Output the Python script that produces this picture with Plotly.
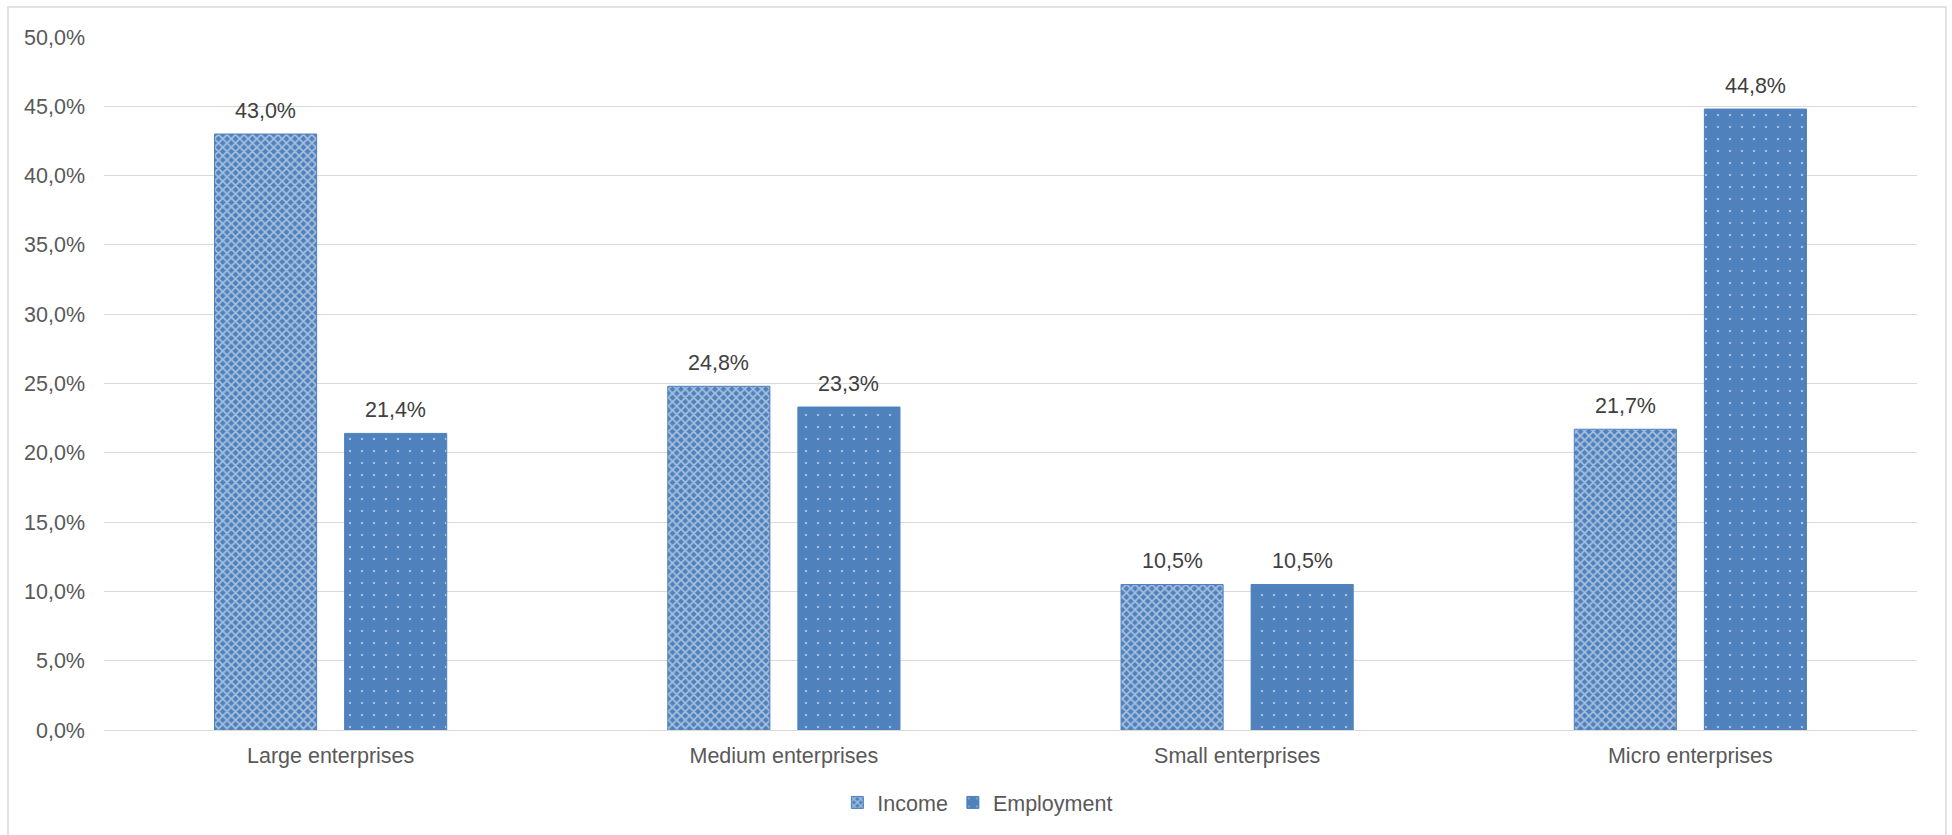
import plotly.graph_objects as go

categories = ["Large enterprises", "Medium enterprises", "Small enterprises", "Micro enterprises"]
income = [0.430, 0.248, 0.105, 0.217]
employment = [0.214, 0.233, 0.105, 0.448]
y_ticks = [0, 0.05, 0.10, 0.15, 0.20, 0.25, 0.30, 0.35, 0.40, 0.45, 0.50]

W, H = 1952, 835
L, R, T, B = 104, 35, 37, 105
BLUE = "#4f81bd"
FONT = "Liberation Sans, Arial, sans-serif"
FS = 21.5

fig = go.Figure()
fig.add_trace(go.Bar(
    x=categories, y=income, name="Income",
    marker=dict(color=BLUE, line=dict(color=BLUE, width=1),
                pattern=dict(shape="x", fgcolor="white", bgcolor=BLUE, size=6, solidity=0.5)),
))
fig.add_trace(go.Bar(
    x=categories, y=employment, name="Employment",
    marker=dict(color=BLUE, line=dict(color=BLUE, width=1),
                pattern=dict(shape=".", fgcolor="white", bgcolor=BLUE, size=12, solidity=0.035)),
))

# data labels above bars (offset to each bar of the group)
for vals, dx in ((income, -65), (employment, 65)):
    for c, v in zip(categories, vals):
        fig.add_annotation(x=c, y=v, xref="x", yref="y", text=f"{v*100:.1f}%".replace(".", ","),
                           showarrow=False, xshift=dx, yshift=23, yanchor="middle",
                           font=dict(color="#404040", size=FS, family=FONT))

pw = W - L - R
ph = H - T - B
fig.add_shape(type="rect", xref="paper", yref="paper",
              x0=(8 - L) / pw, x1=(1946 - L) / pw,
              y0=(H - 900 - B) / ph, y1=(H - 7 - B) / ph,
              line=dict(color="#d9d9d9", width=1.5), fillcolor="rgba(0,0,0,0)", layer="below")

fig.update_layout(
    width=W, height=H, margin=dict(l=L, r=R, t=T, b=B, autoexpand=False),
    paper_bgcolor="white", plot_bgcolor="white",
    separators=",.",
    barmode="group", bargap=0.426, bargroupgap=0.215,
    font=dict(family=FONT, color="#595959", size=FS),
    showlegend=True,
    legend=dict(orientation="h", x=0.482, xanchor="center", y=-0.075, yanchor="top",
                font=dict(size=FS, color="#595959"), itemwidth=30, traceorder="normal"),
    xaxis=dict(showline=True, linecolor="#d9d9d9", linewidth=1, ticks="",
               ticklabelstandoff=6, automargin=False,
               tickfont=dict(size=FS, color="#595959"), showgrid=False),
    yaxis=dict(range=[0, 0.5], tickvals=y_ticks, tickformat=".1%",
               showgrid=True, gridcolor="#d9d9d9", gridwidth=1, automargin=False,
               zeroline=False, showline=False, ticks="", ticklabelstandoff=18,
               tickfont=dict(size=FS, color="#595959")),
)

fig.write_html("out.html")
